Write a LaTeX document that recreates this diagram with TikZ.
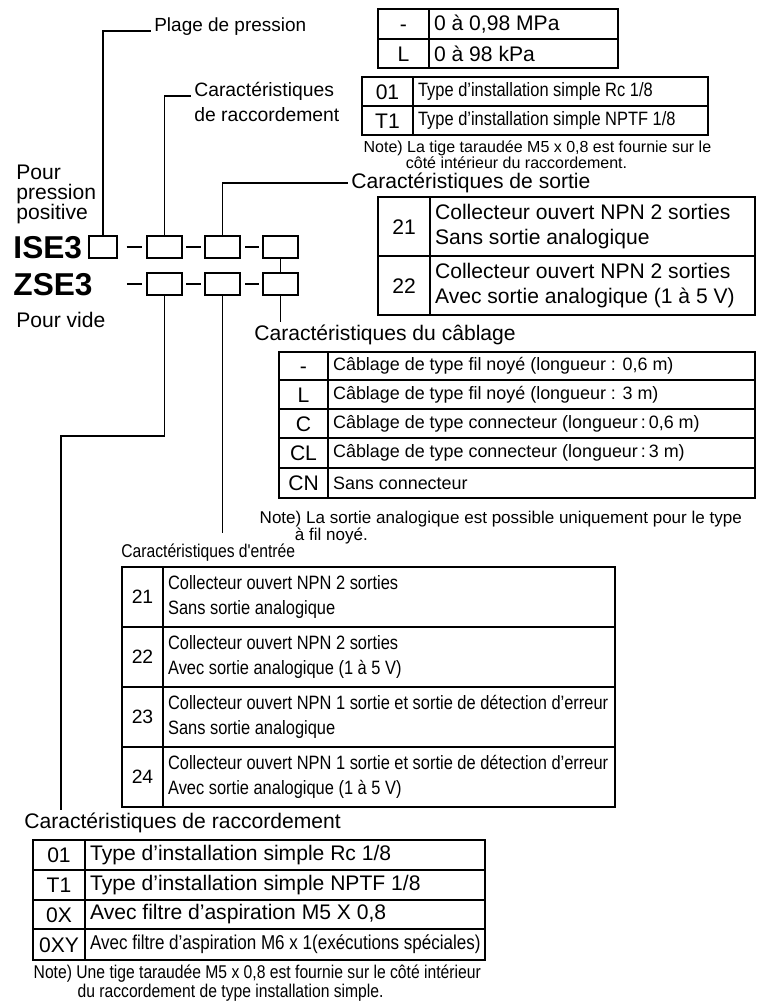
\documentclass[tikz,border=0pt]{standalone}
\usepackage{fontspec}
\setmainfont{Liberation Sans}
\newfontfamily\narrowfont[FakeStretch=0.85]{Liberation Sans}
\usepackage{tikz}
\usetikzlibrary{calc, positioning}

\tikzset{
  codebox/.style={draw, line width=0.9pt, minimum width=0.7cm, minimum height=0.44cm, inner sep=0pt},
  lbl/.style={inner sep=1.5pt, font=\fontsize{12}{14}\selectfont},
  code/.style={inner sep=0pt, text height=8.6pt, text depth=0pt, font=\fontsize{12}{14}\selectfont},
  cell/.style={anchor=west, align=left, inner sep=2.5pt, font=\fontsize{12}{14.2}\selectfont},
  tab/.style={line width=1pt},
}

\begin{document}
\begin{tikzpicture}[x=0.02cm, y=-0.02cm, line width=0.8pt]
      \useasboundingbox (0,0) rectangle (757,1001);
      \node[anchor=west, inner sep=1pt, font=\bfseries\fontsize{18}{20}\selectfont] (ise) at (11,248) {ISE3};
      \node[anchor=west, inner sep=1pt, font=\bfseries\fontsize{18}{20}\selectfont] (zse) at (11,285) {ZSE3};
      \node[lbl, anchor=north west, align=left, font=\fontsize{12}{11.4}\selectfont] (pos) at (13,162) {Pour\\pression\\positive};
      \node[lbl, anchor=west] (vide) at (13,320) {Pour vide};
      \node[codebox, minimum width=0.56cm] (p1) at (103,247) {};
      \node[codebox] (p2) at (164.5,247) {};
      \node[codebox] (p3) at (222.5,247) {};
      \node[codebox] (p4) at (280.5,247) {};
      \node[codebox] (v2) at (164.5,284) {};
      \node[codebox] (v3) at (222.5,284) {};
      \node[codebox] (v4) at (280.5,284) {};
      \draw ([xshift=5pt]p1.east) -- ([xshift=-2.5pt]p2.west);
      \draw ([xshift=2pt]p2.east) -- ([xshift=-2pt]p3.west);
      \draw ([xshift=2.5pt]p3.east) -- ([xshift=-2pt]p4.west);
      \draw ([xshift=-11pt]v2.west) -- ([xshift=-2.3pt]v2.west);
      \draw ([xshift=2pt]v2.east) -- ([xshift=-2pt]v3.west);
      \draw ([xshift=2.5pt]v3.east) -- ([xshift=-2pt]v4.west);
      \draw (p4) -- (v4);
      \node[lbl, anchor=base west, font=\fontsize{10.8}{13}\selectfont] (plage) at (151,31) {Plage de pression};
      \draw (p1.north) |- (plage.base west);
      \node[lbl, anchor=base west, font=\fontsize{11}{13}\selectfont] (racca) at (191,96) {Caractéristiques};
      \node[lbl, anchor=base west, font=\fontsize{11}{13}\selectfont] (raccb) at (191,121) {de raccordement};
      \draw (p2.north) |- (racca.base west);
      \node[lbl, anchor=west] (sortie) at (348,183) {Caractéristiques de sortie};
      \draw (p3.north) |- (sortie.west);
      \node[lbl, anchor=west] (cablage) at (251,335) {Caractéristiques du câblage};
      \draw (v4.south) -- (v4.south |- cablage.north);
      \node[lbl, anchor=west, font=\narrowfont\fontsize{10.5}{12}\selectfont] (entree) at (118,553) {Caractéristiques d'entrée};
      \draw (v3.south) -- ($(v3.south |- entree.north)+(0,-8)$);
      \node[lbl, anchor=west] (raccbot) at (21,823) {Caractéristiques de raccordement};
      \coordinate (bend) at (61,436);
      \draw (v2.south) |- (bend) -- (bend |- raccbot.north);

      \draw[tab] (378,9) rectangle (618,68);
      \draw[tab] (378,39) -- (618,39) (429,9) -- (429,68);
      \node[code] (prA) at (403.5,24) {-};
      \node[code] (prB) at (403.5,53.5) {L};
      \node[cell] (prAt) at (429,24) {0 à 0,98 MPa};
      \node[cell] (prBt) at (429,53.5) {0 à 98 kPa};

      \draw[tab] (362,77) rectangle (708,135);
      \draw[tab] (362,106) -- (708,106) (413,77) -- (413,135);
      \node[code] (rcA) at (387.5,91.5) {01};
      \node[code] (rcB) at (387.5,120.5) {T1};
      \node[cell, font=\narrowfont\fontsize{11}{13}\selectfont] (rcAt) at (413,91.5) {Type d’installation simple Rc 1/8};
      \node[cell, font=\narrowfont\fontsize{11}{13}\selectfont] (rcBt) at (413,120.5) {Type d’installation simple NPTF 1/8};
      \node[anchor=north west, align=left, inner sep=0pt, font=\fontsize{9.1}{9}\selectfont] (rcnote) at (363,140) {Note) La tige taraudée M5 x 0,8 est fournie sur le\\\hspace*{24pt}côté intérieur du raccordement.};

      \draw[tab] (378,197) rectangle (755,315);
      \draw[tab] (378,256) -- (755,256) (430,197) -- (430,315);
      \node[code] (soA) at (404,226.5) {21};
      \node[code] (soB) at (404,285.5) {22};
      \node[cell] (soAt) at (430,226.5) {Collecteur ouvert NPN 2 sorties\\Sans sortie analogique};
      \node[cell] (soBt) at (430,285.5) {Collecteur ouvert NPN 2 sorties\\Avec sortie analogique (1 à 5 V)};

      \draw[tab] (279,352) rectangle (755,498);
      \draw[tab] (279,380) -- (755,380) (279,409) -- (755,409) (279,438) -- (755,438) (279,468) -- (755,468);
      \draw[tab] (328,352) -- (328,498);
      \node[code] (caA) at (303.5,366) {-};
      \node[code] (caB) at (303.5,394.5) {L};
      \node[code] (caC) at (303.5,423.5) {C};
      \node[code] (caD) at (303.5,453) {CL};
      \node[code] (caE) at (303.5,483) {CN};
      \node[cell, font=\fontsize{10.2}{12}\selectfont] (caAt) at (328,366) {Câblage de type fil noyé (longueur : 0,6 m)};
      \node[cell, font=\fontsize{10.2}{12}\selectfont] (caBt) at (328,394.5) {Câblage de type fil noyé (longueur : 3 m)};
      \node[cell, font=\fontsize{10.2}{12}\selectfont] (caCt) at (328,423.5) {Câblage de type connecteur (longueur\,:\,0,6 m)};
      \node[cell, font=\fontsize{10.2}{12}\selectfont] (caDt) at (328,453) {Câblage de type connecteur (longueur\,:\,3 m)};
      \node[cell, font=\fontsize{10.2}{12}\selectfont] (caEt) at (328,483) {Sans connecteur};
      \node[anchor=north west, align=left, inner sep=0pt, font=\fontsize{9.7}{7}\selectfont] (canote) at (259,510) {Note) La sortie analogique est possible uniquement pour le type\\\hspace*{20pt}à fil noyé.};

      \draw[tab] (122,567) rectangle (615,807);
      \draw[tab] (122,627) -- (615,627) (122,687) -- (615,687) (122,747) -- (615,747);
      \draw[tab] (163,567) -- (163,807);
      \node[code, text height=7.9pt, font=\fontsize{11}{13}\selectfont] (enA) at (142.5,597) {21};
      \node[code, text height=7.9pt, font=\fontsize{11}{13}\selectfont] (enB) at (142.5,657) {22};
      \node[code, text height=7.9pt, font=\fontsize{11}{13}\selectfont] (enC) at (142.5,717) {23};
      \node[code, text height=7.9pt, font=\fontsize{11}{13}\selectfont] (enD) at (142.5,777) {24};
      \node[cell, font=\narrowfont\fontsize{11}{14.2}\selectfont] (enAt) at (163,597) {Collecteur ouvert NPN 2 sorties\\Sans sortie analogique};
      \node[cell, font=\narrowfont\fontsize{11}{14.2}\selectfont] (enBt) at (163,657) {Collecteur ouvert NPN 2 sorties\\Avec sortie analogique (1 à 5 V)};
      \node[cell, font=\narrowfont\fontsize{11}{14.2}\selectfont] (enCt) at (163,717) {Collecteur ouvert NPN 1 sortie et sortie de détection d’erreur\\Sans sortie analogique};
      \node[cell, font=\narrowfont\fontsize{11}{14.2}\selectfont] (enDt) at (163,777) {Collecteur ouvert NPN 1 sortie et sortie de détection d’erreur\\Avec sortie analogique (1 à 5 V)};

      \draw[tab] (33,840) rectangle (485,960);
      \draw[tab] (33,870) -- (485,870) (33,900) -- (485,900) (33,929) -- (485,929);
      \draw[tab] (85,840) -- (85,960);
      \node[code] (rbA) at (59,855) {01};
      \node[code] (rbB) at (59,885) {T1};
      \node[code] (rbC) at (59,914.5) {0X};
      \node[code] (rbD) at (59,944.5) {0XY};
      \node[cell] (rbAt) at (85,855) {Type d’installation simple Rc 1/8};
      \node[cell] (rbBt) at (85,885) {Type d’installation simple NPTF 1/8};
      \node[cell] (rbCt) at (85,914.5) {Avec filtre d’aspiration M5 X 0,8};
      \node[cell, font=\narrowfont\fontsize{11.4}{13}\selectfont] (rbDt) at (85,944.5) {Avec filtre d’aspiration M6 x 1(exécutions spéciales)};
      \node[anchor=north west, align=left, inner sep=0pt, font=\narrowfont\fontsize{10.5}{9.3}\selectfont] (rbnote) at (33,964) {Note) Une tige taraudée M5 x 0,8 est fournie sur le côté intérieur\\\hspace*{25pt}du raccordement de type installation simple.};
    \end{tikzpicture}
\end{document}
